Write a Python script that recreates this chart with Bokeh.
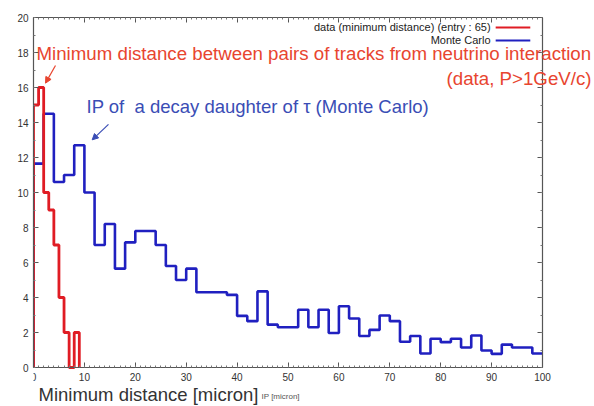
import numpy as np
from bokeh.plotting import figure
from bokeh.models import Range1d, FixedTicker, Label, LinearAxis, Arrow, NormalHead
from bokeh.embed import file_html
from bokeh.resources import INLINE

# ---- data ----
red_edges = list(range(0, 10))          # 1-micron bins 0..9
red_counts = [15, 16, 10, 9, 7, 4, 2, 0, 2]

blue_edges = list(range(0, 102, 2))     # 2-micron bins 0..100
blue_counts = [11.65, 14.5, 10.6, 11.0, 12.7, 10.0, 7.0, 8.2, 5.65, 7.15,
               7.8, 7.8, 7.0, 5.8, 5.0, 5.65, 4.3, 4.3, 4.3, 4.15,
               2.95, 2.65, 4.35, 2.45, 2.3, 2.3, 3.3, 2.3, 3.3, 1.97,
               3.5, 2.8, 1.8, 2.15, 2.97, 2.65, 1.47, 1.8, 0.8, 1.64,
               1.45, 1.64, 1.14, 1.83, 0.97, 0.78, 1.31, 1.14, 1.14, 0.8]

x_major = list(range(0, 101, 10))
x_minor = list(range(0, 101, 1))
y_major = list(range(0, 21, 2))
y_minor = list(range(0, 21, 1))
X_LIM = (0, 100)
Y_LIM = (0, 20)

legend_labels = ["data (minimum distance) (entry : 65)", "Monte Carlo"]

RED = "#e01c24"
BLUE = "#2020c0"
RED_TXT = "#e8452f"
BLUE_TXT = "#3a4db5"
FONT = "Liberation Sans"
W, H = 594, 406

# plot box (pixels) where the axes sit; the frame is extended right/down so
# that the annotation texts that run past the axes are not clipped
BOX_L, BOX_R, BOX_T, BOX_B = 33, 542, 17, 367
x_end = X_LIM[1] * (W - BOX_L) / (BOX_R - BOX_L)
y_start = -Y_LIM[1] * (H - BOX_B) / (BOX_B - BOX_T)


def outline(edges, counts):
    xs = np.repeat(np.asarray(edges, float), 2)
    ys = np.concatenate([[0.0], np.repeat(np.asarray(counts, float), 2), [0.0]])
    return xs, ys


p = figure(width=W, height=H, output_backend="svg", toolbar_location=None,
           x_range=Range1d(X_LIM[0], x_end), y_range=Range1d(y_start, Y_LIM[1]),
           x_axis_location=None, y_axis_location=None,
           min_border_left=BOX_L, min_border_right=0, min_border_top=BOX_T, min_border_bottom=0)
p.grid.visible = False
p.outline_line_color = None
p.background_fill_color = "white"
p.border_fill_color = "white"


def mk_axis(kind, labels, fixed=None):
    ax = LinearAxis(fixed_location=fixed)
    if kind == "x":
        ax.ticker = FixedTicker(ticks=x_major, minor_ticks=x_minor)
        ax.bounds = X_LIM
    else:
        ax.ticker = FixedTicker(ticks=y_major, minor_ticks=y_minor)
        ax.bounds = Y_LIM
    ax.major_tick_in = 5
    ax.major_tick_out = 0
    ax.minor_tick_in = 2
    ax.minor_tick_out = 0
    ax.axis_line_color = "#555555"
    ax.major_tick_line_color = "#555555"
    ax.minor_tick_line_color = "#777777"
    ax.axis_line_width = 1.2
    if labels:
        ax.major_label_text_font = FONT
        ax.major_label_text_font_size = "10px"
        ax.major_label_text_color = "#333333"
        ax.major_label_standoff = 5
    else:
        ax.major_label_text_font_size = "0px"
        ax.major_label_text_alpha = 0
    return ax


bx, by = outline(blue_edges, blue_counts)
p.line(bx[:-1], by[:-1], line_color=BLUE, line_width=2.6)
rx, ry = outline(red_edges, red_counts)
p.line(rx, ry, line_color=RED, line_width=2.8)

p.add_layout(mk_axis("x", True, fixed=Y_LIM[0]), "below")
p.add_layout(mk_axis("x", False), "above")
p.add_layout(mk_axis("y", True), "left")
p.add_layout(mk_axis("y", False, fixed=X_LIM[1]), "right")

# legend (text then sample line, right aligned)
for i, (lab, col) in enumerate(zip(legend_labels, [RED, BLUE])):
    yy = 19.43 - 0.74 * i
    p.add_layout(Label(x=89.8, y=yy, text=lab, text_align="right", text_baseline="middle",
                       text_font=FONT, text_font_size="11px", text_color="#222222"))
    p.segment(x0=[90.8], y0=[yy], x1=[97.6], y1=[yy], line_color=col, line_width=2)


def canvas_label(x, y_from_top, text, size, color, align="left"):
    p.add_layout(Label(x=x, y=y_from_top, x_units="canvas", y_units="canvas",
                       text=text, text_align=align, text_baseline="middle",
                       text_font=FONT, text_font_size=size, text_color=color))


canvas_label(36, 53, "Minimum distance between pairs of tracks from neutrino interaction",
             "18.7px", RED_TXT)
canvas_label(591, 78, "(data, P>1GeV/c)", "18.7px", RED_TXT, align="right")
canvas_label(38, 394, "Minimum distance [micron]", "18.5px", "#333333")
canvas_label(261, 396, "IP [micron]", "8px", "#555555")
canvas_label(86, 106, "IP of \u00a0a decay daughter of \u03c4 (Monte Carlo)", "18.5px", BLUE_TXT)

p.add_layout(Arrow(x_start=4.32, y_start=17.26, x_end=2.36, y_end=16.25,
                   line_color=RED_TXT, line_width=1.2,
                   end=NormalHead(size=6, fill_color=RED_TXT, line_color=RED_TXT)))
p.add_layout(Arrow(x_start=14.73, y_start=13.89, x_end=11.53, y_end=13.01,
                   line_color=BLUE_TXT, line_width=1.2,
                   end=NormalHead(size=6, fill_color=BLUE_TXT, line_color=BLUE_TXT)))

open("out.html", "w").write(file_html(p, INLINE))
